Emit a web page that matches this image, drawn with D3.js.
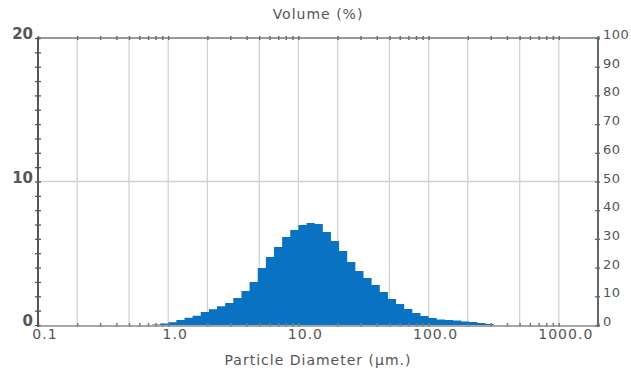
<!DOCTYPE html>
<html>
<head>
<meta charset="utf-8">
<script src="https://cdn.jsdelivr.net/npm/d3@7"></script>
<style>
  html, body { margin: 0; padding: 0; background: #fff; }
  svg { display: block; }
  text { font-family: "DejaVu Sans", sans-serif; fill: #555; }
</style>
</head>
<body>
<svg id="chart" width="631" height="371"></svg>
<script>
// ---- data ----
// particle size class edges (µm), 16 classes per decade
const binEdges = [0.750, 0.866, 1.000, 1.155, 1.334, 1.540, 1.778, 2.054, 2.371, 2.738,
  3.162, 3.652, 4.217, 4.870, 5.623, 6.494, 7.499, 8.660, 10.00, 11.55,
  13.34, 15.40, 17.78, 20.54, 23.71, 27.38, 31.62, 36.52, 42.17, 48.70,
  56.23, 64.94, 74.99, 86.60, 100.0, 115.5, 133.4, 154.0, 177.8, 205.4,
  237.1, 273.8, 316.2];
// volume (%) in each class
const volumePct = [0.03, 0.10, 0.20, 0.35, 0.50, 0.65, 0.90, 1.10, 1.30, 1.53,
  1.88, 2.37, 3.00, 3.97, 4.74, 5.44, 6.13, 6.62, 6.97, 7.10,
  7.04, 6.48, 5.85, 5.16, 4.39, 3.76, 3.28, 2.79, 2.30, 1.81,
  1.46, 1.11, 0.84, 0.63, 0.49, 0.38, 0.35, 0.31, 0.24, 0.21,
  0.14, 0.07];
const xTickLabels = ["0.1", "1.0", "10.0", "100.0", "1000.0"];
const xTickValues = [0.1, 1, 10, 100, 1000];
const xGridValues = [0.2, 0.5, 1, 2, 5, 10, 20, 50, 100, 200, 500, 1000];
const leftTickLabels = [0, 10, 20];
const rightTickLabels = [0, 10, 20, 30, 40, 50, 60, 70, 80, 90, 100];
const titleTop = "Volume (%)";
const titleBottom = "Particle Diameter (μm.)";

// ---- layout ----
const svg = d3.select("#chart");
const L = 38, R = 598, T = 38, B = 325;
const x = d3.scaleLog().domain([0.1, 2000]).range([L, R]);
const yL = d3.scaleLinear().domain([0, 20]).range([B, T]);
const yR = d3.scaleLinear().domain([0, 100]).range([B, T]);

// minor log ticks
const logTicks = [];
[0.1, 1, 10, 100, 1000].forEach(d => { for (let m = 1; m <= 9; m++) { const v = d * m; if (v <= 2000) logTicks.push(v); } });
logTicks.push(2000);

// grid
const grid = svg.append("g");
grid.selectAll("line.v").data(xGridValues).enter().append("line")
  .attr("x1", d => x(d)).attr("x2", d => x(d)).attr("y1", T).attr("y2", B)
  .attr("stroke", "#d2d2d2").attr("stroke-width", 1.3);
grid.append("line").attr("x1", L).attr("x2", R).attr("y1", yL(10)).attr("y2", yL(10))
  .attr("stroke", "#d2d2d2").attr("stroke-width", 1.3);

// histogram (stepped)
const pts = volumePct.map((v, i) => [binEdges[i], v]);
pts.push([binEdges[binEdges.length - 1], volumePct[volumePct.length - 1]]);
const area = d3.area()
  .x(d => x(d[0])).y0(yL(0)).y1(d => yL(d[1]))
  .curve(d3.curveStepAfter);
svg.append("path").datum(pts).attr("d", area).attr("fill", "#0a72c2");

// axes
function styleAxis(g, color, width) {
  g.select(".domain").remove();
  g.selectAll(".tick line").attr("stroke", color).attr("stroke-width", width);
  g.selectAll(".tick text").remove();
}
const topAx = svg.append("g").attr("transform", `translate(0,${T + 2})`)
  .call(d3.axisTop(x).tickValues(logTicks).tickSize(4).tickFormat(""));
styleAxis(topAx, "#666", 1.5);
const botAx = svg.append("g").attr("transform", `translate(0,${B + 2})`)
  .call(d3.axisTop(x).tickValues(logTicks).tickSize(4).tickFormat(""));
styleAxis(botAx, "#777", 1.5);
const leftAx = svg.append("g").attr("transform", `translate(${L + 3},0)`)
  .call(d3.axisLeft(yL).tickValues(d3.range(0, 21)).tickSize(6).tickFormat(""));
styleAxis(leftAx, "#555", 1.3);
const rightAx = svg.append("g").attr("transform", `translate(${R - 3},0)`)
  .call(d3.axisRight(yR).tickValues(rightTickLabels).tickSize(5).tickFormat(""));
styleAxis(rightAx, "#666", 1.3);

// frame lines
svg.append("line").attr("x1", L).attr("x2", R).attr("y1", T).attr("y2", T).attr("stroke", "#777").attr("stroke-width", 1.6);
svg.append("line").attr("x1", L).attr("x2", R).attr("y1", B + 1).attr("y2", B + 1).attr("stroke", "#8a8a8a").attr("stroke-width", 1.6);
svg.append("line").attr("x1", L).attr("x2", L).attr("y1", T - 1).attr("y2", B + 2).attr("stroke", "#555").attr("stroke-width", 2);
svg.append("line").attr("x1", R).attr("x2", R).attr("y1", T - 1).attr("y2", B + 2).attr("stroke", "#666").attr("stroke-width", 2);

// labels
svg.selectAll("text.xl").data(xTickValues).enter().append("text")
  .attr("x", (d, i) => x(d) + 7).attr("y", 339)
  .attr("text-anchor", "middle").attr("font-size", 14).attr("letter-spacing", 1)
  .text((d, i) => xTickLabels[i]);
svg.selectAll("text.yl").data(leftTickLabels).enter().append("text")
  .attr("x", 33).attr("y", d => yL(d) + 1)
  .attr("text-anchor", "end").attr("font-size", 15).attr("font-weight", "bold").attr("fill", "#555")
  .text(d => d);
svg.selectAll("text.yr").data(rightTickLabels).enter().append("text")
  .attr("x", 603).attr("y", d => yR(d) + 1)
  .attr("text-anchor", "start").attr("font-size", 13).attr("letter-spacing", 0.5)
  .text(d => d);
svg.append("text").attr("x", 318).attr("y", 19).attr("text-anchor", "middle")
  .attr("font-size", 14).attr("letter-spacing", 1).text(titleTop);
svg.append("text").attr("x", 318).attr("y", 365).attr("text-anchor", "middle")
  .attr("font-size", 14).attr("letter-spacing", 1).text(titleBottom);
</script>
</body>
</html>
